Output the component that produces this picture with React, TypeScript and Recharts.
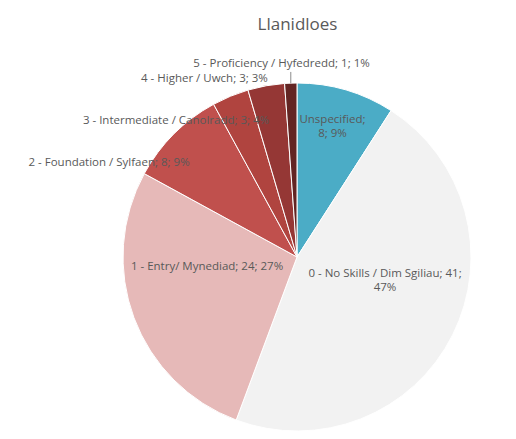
import { PieChart, Pie, Cell } from 'recharts';

const names = [
  'Unspecified',
  '0 - No Skills / Dim Sgiliau',
  '1 - Entry/ Mynediad',
  '2 - Foundation / Sylfaen',
  '3 - Intermediate / Canolradd',
  '4 - Higher / Uwch',
  '5 - Proficiency / Hyfedredd',
];
const counts = [8, 41, 24, 8, 3, 3, 1];
const pctLabels = ['9%', '47%', '27%', '9%', '4%', '3%', '1%'];

const colors = ['#4bacc6', '#f2f2f2', '#e6b9b8', '#c0504d', '#b0443f', '#953735', '#632523'];
// label centre relative to pie centre, in units of the radius
const labelPos = [
  [0.204, -0.759], [0.506, 0.126], [-0.517, 0.046], [-1.08, -0.552],
  [-0.695, -0.793], [-0.532, -1.033], [-0.089, -1.121],
];
// index of the "; " part after which the label wraps (-1 = no wrap)
const wrapAfter = [0, 1, -1, -1, -1, -1, -1];
const leader = [false, false, false, false, false, false, true];

const data = names.map((name, i) => ({ name, value: counts[i] }));

const FONT = '"Open Sans", "Noto Sans", sans-serif';
const TEXT = '#595959';

// eslint-disable-next-line @typescript-eslint/no-explicit-any
function renderLabel(props: any) {
  const { cx, cy, outerRadius, midAngle, index } = props;
  const [fx, fy] = labelPos[index];
  const x = cx + fx * outerRadius;
  const y = cy + fy * outerRadius;
  const parts = [names[index], String(counts[index]), pctLabels[index]];
  const w = wrapAfter[index];
  const lines = w < 0
    ? [parts.join('; ')]
    : [parts.slice(0, w + 1).join('; ') + ';', parts.slice(w + 1).join('; ')];
  const lh = 14;
  const y0 = y - ((lines.length - 1) * lh) / 2;
  const rad = (Math.PI / 180) * midAngle;
  const ex = cx + outerRadius * Math.cos(rad);
  const ey = cy - outerRadius * Math.sin(rad);
  return (
    <g key={`lbl-${index}`}>
      {leader[index] && (
        <line x1={ex} y1={ey} x2={ex} y2={y + 10} stroke="#8c8c8c" strokeWidth={1} />
      )}
      <text x={x} y={y0} textAnchor="middle" dominantBaseline="central" fill={TEXT} fontSize={11.5} fontFamily={FONT}>
        {lines.map((l, k) => (
          <tspan key={k} x={x} dy={k === 0 ? 0 : lh}>{l}</tspan>
        ))}
      </text>
    </g>
  );
}

export default function App() {
  return (
    <div style={{ position: 'absolute', left: 0, top: 0, width: 516, height: 439, background: '#fff' }}>
      <div style={{
        position: 'absolute', top: 12, left: 0, width: 595, textAlign: 'center',
        fontFamily: FONT, fontSize: 17, color: TEXT,
      }}>Llanidloes</div>
      <PieChart width={516} height={439} margin={{ top: 0, right: 0, bottom: 0, left: 0 }}>
        <Pie
          data={data}
          dataKey="value"
          nameKey="name"
          cx={297}
          cy={257}
          outerRadius={174}
          startAngle={90}
          endAngle={-270}
          stroke="#ffffff"
          strokeWidth={1}
          label={renderLabel}
          labelLine={false}
          isAnimationActive={false}
        >
          {data.map((d, i) => (
            <Cell key={d.name} fill={colors[i]} />
          ))}
        </Pie>
      </PieChart>
    </div>
  );
}
